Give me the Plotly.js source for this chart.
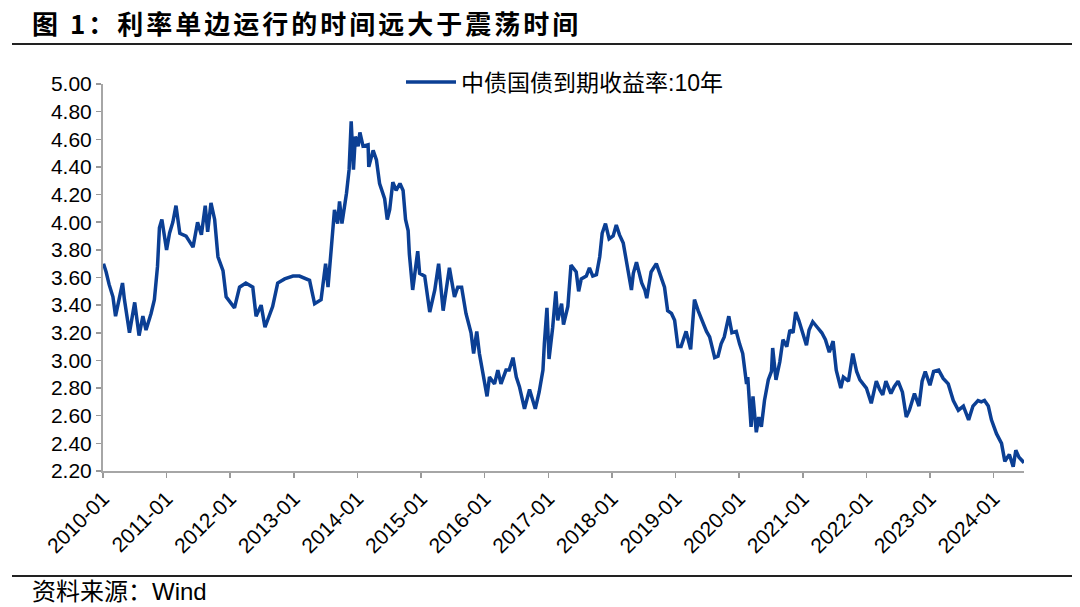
<!DOCTYPE html>
<html>
<head>
<meta charset="utf-8">
<script src="https://cdn.plot.ly/plotly-3.0.1.min.js"></script>
<style>
html,body{margin:0;padding:0;background:#fff;}
#chart{width:1080px;height:607px;}
.gtitle{letter-spacing:3px;}
</style>
</head>
<body>
<div id="chart"></div>
<script>
const chartTitle = "图 1：利率单边运行的时间远大于震荡时间";
const sourceNote = "资料来源：Wind";
const seriesName = "中债国债到期收益率:10年";

const dates = [
"2010-01-04","2010-01-19","2010-02-05","2010-02-27","2010-03-14","2010-04-23","2010-05-04","2010-06-02","2010-07-02","2010-07-27",
"2010-08-18","2010-09-05","2010-10-04","2010-10-23","2010-11-10","2010-11-21","2010-12-05","2011-01-01","2011-01-18","2011-02-06",
"2011-02-24","2011-03-18","2011-04-23","2011-06-02","2011-06-28","2011-07-20","2011-08-11","2011-08-25","2011-09-13","2011-10-04",
"2011-10-23","2011-11-21","2011-12-09","2012-01-26","2012-02-24","2012-03-31","2012-05-10","2012-05-29","2012-06-27","2012-07-19",
"2012-09-01","2012-09-30","2012-11-09","2012-12-27","2013-02-02","2013-04-01","2013-04-30","2013-06-06","2013-07-02","2013-07-16",
"2013-08-03","2013-08-22","2013-09-09","2013-09-20","2013-10-04","2013-10-30","2013-11-14","2013-11-26","2013-12-09","2013-12-20",
"2014-01-05","2014-01-15","2014-02-02","2014-03-03","2014-03-07","2014-04-01","2014-04-20","2014-05-08","2014-06-06","2014-06-21",
"2014-07-05","2014-07-23","2014-08-11","2014-09-02","2014-09-20","2014-10-04","2014-10-19","2014-10-26","2014-11-14","2014-11-25",
"2014-12-13","2014-12-24","2015-01-22","2015-02-20","2015-03-21","2015-04-12","2015-05-08","2015-06-13","2015-07-12","2015-07-31",
"2015-08-22","2015-09-16","2015-10-15","2015-10-30","2015-11-17","2015-12-02","2015-12-20","2016-01-15","2016-01-29","2016-02-27",
"2016-03-17","2016-04-04","2016-05-03","2016-05-21","2016-06-12","2016-07-01","2016-07-19","2016-08-17","2016-09-15","2016-10-18",
"2016-11-09","2016-12-01","2016-12-09","2016-12-24","2017-01-05","2017-01-26","2017-02-13","2017-02-24","2017-03-18","2017-03-29",
"2017-04-23","2017-05-11","2017-06-10","2017-06-24","2017-07-09","2017-08-07","2017-08-25","2017-09-13","2017-10-04","2017-10-23",
"2017-11-06","2017-11-25","2017-12-16","2018-01-08","2018-01-26","2018-02-13","2018-03-07","2018-03-29","2018-04-23","2018-05-04",
"2018-05-22","2018-06-21","2018-07-09","2018-07-20","2018-08-14","2018-09-13","2018-10-01","2018-10-30","2018-11-17","2018-12-09",
"2018-12-27","2019-01-15","2019-02-02","2019-03-03","2019-03-29","2019-04-20","2019-05-11","2019-06-06","2019-06-28","2019-07-16",
"2019-08-14","2019-09-02","2019-09-20","2019-10-08","2019-11-03","2019-11-21","2019-12-16","2020-01-04","2020-01-22","2020-02-13",
"2020-02-20","2020-03-10","2020-03-21","2020-04-09","2020-04-23","2020-05-08","2020-05-26","2020-06-17","2020-07-05","2020-07-12",
"2020-07-31","2020-08-22","2020-09-09","2020-10-01","2020-10-19","2020-11-06","2020-11-21","2020-12-09","2021-01-05","2021-01-22",
"2021-02-06","2021-02-27","2021-03-25","2021-04-20","2021-05-11","2021-06-02","2021-06-24","2021-07-12","2021-08-07","2021-08-22",
"2021-09-20","2021-10-15","2021-11-06","2021-11-25","2021-12-13","2022-01-01","2022-01-29","2022-02-27","2022-03-18","2022-04-05",
"2022-04-23","2022-05-22","2022-06-10","2022-07-02","2022-07-27","2022-08-18","2022-09-05","2022-10-04","2022-10-30","2022-11-17",
"2022-12-05","2023-01-01","2023-01-22","2023-02-20","2023-03-18","2023-04-16","2023-05-15","2023-06-13","2023-07-12","2023-08-11",
"2023-09-05","2023-10-04","2023-10-23","2023-11-10","2023-12-02","2023-12-20","2024-01-18","2024-02-16","2024-03-06","2024-04-01",
"2024-04-23","2024-05-08","2024-05-26","2024-06-24"
];

const yields = [
3.70,3.64,3.55,3.46,3.32,3.56,3.44,3.20,3.42,3.18,
3.32,3.22,3.34,3.44,3.68,3.96,4.02,3.80,3.92,4.00,
4.12,3.92,3.90,3.82,4.00,3.91,4.12,3.93,4.14,4.02,
3.75,3.65,3.46,3.38,3.53,3.56,3.53,3.32,3.40,3.24,
3.39,3.56,3.59,3.61,3.61,3.58,3.41,3.44,3.70,3.53,
3.80,4.09,3.99,4.15,3.99,4.21,4.38,4.73,4.38,4.62,
4.55,4.65,4.55,4.56,4.40,4.52,4.45,4.28,4.17,4.02,
4.09,4.29,4.23,4.28,4.23,4.02,3.94,3.77,3.51,3.63,
3.79,3.63,3.61,3.35,3.51,3.70,3.36,3.67,3.46,3.53,
3.53,3.34,3.20,3.05,3.21,3.05,2.93,2.74,2.88,2.83,
2.93,2.83,2.93,2.93,3.02,2.88,2.81,2.65,2.79,2.65,
2.77,2.93,3.12,3.38,3.01,3.24,3.50,3.29,3.41,3.26,
3.39,3.69,3.64,3.50,3.59,3.61,3.67,3.61,3.62,3.75,
3.92,3.99,3.88,3.90,3.98,3.91,3.85,3.70,3.51,3.63,
3.71,3.56,3.51,3.45,3.64,3.70,3.63,3.53,3.36,3.34,
3.29,3.10,3.10,3.21,3.08,3.44,3.36,3.27,3.21,3.17,
3.02,3.03,3.12,3.17,3.32,3.20,3.21,3.12,3.05,2.83,
2.88,2.52,2.74,2.48,2.59,2.52,2.71,2.86,2.92,3.09,
2.86,2.99,3.15,3.10,3.22,3.20,3.35,3.29,3.17,3.11,
3.22,3.28,3.24,3.20,3.15,3.06,3.14,2.93,2.80,2.88,
2.85,3.05,2.92,2.86,2.83,2.80,2.69,2.85,2.79,2.75,
2.85,2.76,2.81,2.85,2.77,2.59,2.64,2.76,2.67,2.85,
2.92,2.82,2.92,2.93,2.87,2.83,2.71,2.64,2.67,2.57,
2.67,2.71,2.70,2.71,2.67,2.57,2.47,2.40,2.27,2.32,
2.23,2.35,2.30,2.26
];

const xTickVals = ["2010-01-01","2011-01-01","2012-01-01","2013-01-01","2014-01-01","2015-01-01","2016-01-01","2017-01-01",
"2018-01-01","2019-01-01","2020-01-01","2021-01-01","2022-01-01","2023-01-01","2024-01-01"];
const xTickText = ["2010-01","2011-01","2012-01","2013-01","2014-01","2015-01","2016-01","2017-01",
"2018-01","2019-01","2020-01","2021-01","2022-01","2023-01","2024-01"];

const FONT = 'Liberation Sans, Arial, "Noto Sans CJK SC", sans-serif';
const W = 1080, H = 607;
const L = 103, R = 56, T = 84, B = 136;
const pw = W - L - R, ph = H - T - B;
const px = v => (v - L) / pw;          // pixel x -> paper
const py = v => (H - B - v) / ph;      // pixel y -> paper

const trace = {
  type: 'scatter', mode: 'lines', name: seriesName,
  x: dates, y: yields,
  line: {color: '#0b3f94', width: 3.5}
};

const layout = {
  width: W, height: H,
  margin: {l: L, r: R, t: T, b: B, pad: 0},
  paper_bgcolor: '#fff', plot_bgcolor: '#fff',
  font: {family: FONT, color: '#000', size: 21},
  title: {
    text: '<b>' + chartTitle + '</b>',
    x: 32 / W, xanchor: 'left', xref: 'container',
    y: 1 - 25 / H, yanchor: 'middle', yref: 'container',
    font: {family: '"Noto Sans CJK SC", Liberation Sans, sans-serif', size: 26, color: '#000'}
  },
  showlegend: true,
  legend: {
    orientation: 'h', x: px(401), xanchor: 'left', y: py(82), yanchor: 'middle',
    font: {family: FONT, size: 23, color: '#000'}, bgcolor: 'rgba(0,0,0,0)',
    itemwidth: 50
  },
  xaxis: {
    type: 'date', range: ['2010-01-01', '2024-06-24'],
    tickmode: 'array', tickvals: xTickVals, ticktext: xTickText,
    tickangle: -45, ticks: 'outside', ticklen: 5, tickwidth: 1.5, tickcolor: '#999',
    showline: true, linecolor: '#a6a6a6', linewidth: 2,
    showgrid: false, zeroline: false,
    tickfont: {family: FONT, size: 21, color: '#000'}
  },
  yaxis: {
    range: [2.2, 5.0], tickmode: 'linear', tick0: 2.2, dtick: 0.2, tickformat: '.2f',
    ticks: 'outside', ticklen: 5, tickwidth: 1.5, tickcolor: '#999',
    showline: true, linecolor: '#a6a6a6', linewidth: 2,
    showgrid: false, zeroline: false,
    tickfont: {family: FONT, size: 21, color: '#000'}
  },
  shapes: [
    {type: 'line', xref: 'paper', yref: 'paper', x0: px(12), x1: px(1072), y0: py(44), y1: py(44),
     line: {color: '#222', width: 2}},
    {type: 'line', xref: 'paper', yref: 'paper', x0: px(12), x1: px(1072), y0: py(576), y1: py(576),
     line: {color: '#222', width: 2}}
  ],
  annotations: [
    {text: sourceNote, xref: 'paper', yref: 'paper', x: px(30), y: py(591),
     xanchor: 'left', yanchor: 'middle', showarrow: false,
     font: {family: FONT, size: 24, color: '#000'}}
  ]
};

Plotly.newPlot('chart', [trace], layout, {displayModeBar: false, staticPlot: true});
</script>
</body>
</html>
